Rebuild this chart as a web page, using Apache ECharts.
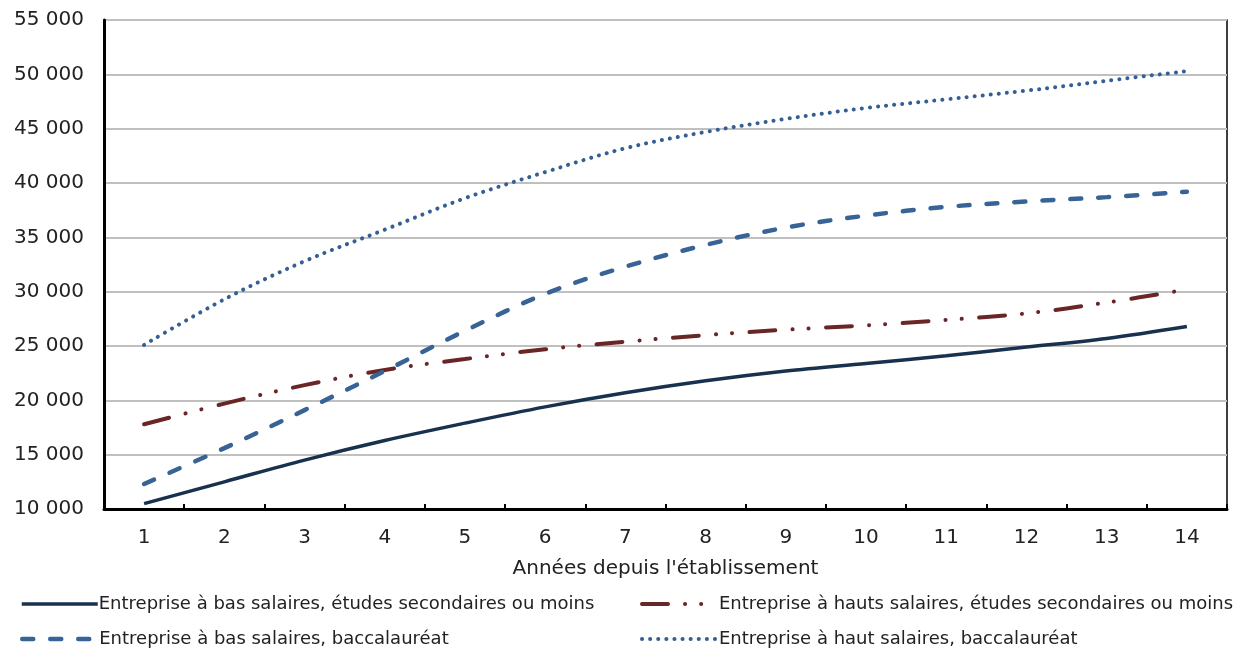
<!DOCTYPE html>
<html>
<head>
<meta charset="utf-8">
<script src="https://cdn.jsdelivr.net/npm/echarts@6/dist/echarts.min.js"></script>
<style>
html,body{margin:0;padding:0;background:#fff;}
#chart{width:1247px;height:649px;}
</style>
</head>
<body>
<div id="chart"></div>
<script>
const categories = ['1','2','3','4','5','6','7','8','9','10','11','12','13','14'];
const lowWageSecondary = [10500,12500,14500,16300,17900,19400,20700,21800,22700,23400,24100,24900,25700,26800];
const highWageSecondary = [17800,19700,21400,22800,23800,24700,25400,26000,26500,26900,27400,28000,29000,30200];
const lowWageBacc = [12300,15600,19100,22700,26400,29800,32300,34300,35900,37000,37800,38300,38700,39200];
const highWageBacc = [25100,29300,32800,35700,38600,41000,43200,44700,45900,46900,47700,48500,49400,50300];
const seriesNames = [
  'Entreprise à bas salaires, études secondaires ou moins',
  'Entreprise à hauts salaires, études secondaires ou moins',
  'Entreprise à bas salaires, baccalauréat',
  'Entreprise à haut salaires, baccalauréat'
];
const xAxisTitle = "Années depuis l'établissement";

const FONT = 'DejaVu Sans';
const chart = echarts.init(document.getElementById('chart'), null, {renderer:'canvas'});

function legendAt(name, left, top) {
  return {
    data: [name], left: left, top: top, orient: 'horizontal',
    itemWidth: 76, itemHeight: 10, itemGap: 2, padding: 0, selectedMode: false,
    itemStyle: {opacity: 0},
    lineStyle: {width: 'inherit', type: 'inherit', cap: 'inherit'},
    textStyle: {fontFamily: FONT, fontSize: 18, color: '#222', padding: [0,0,0,-4]}
  };
}

chart.setOption({
  animation: false,
  backgroundColor: '#fff',
  textStyle: {fontFamily: FONT},
  grid: {left: 104, right: 20, top: 20, bottom: 140, show: true, borderColor: '#000', borderWidth: 1.5, containLabel: false},
  legend: [
    legendAt(seriesNames[0], 20, 595),
    legendAt(seriesNames[1], 640, 595),
    legendAt(seriesNames[2], 20, 630),
    legendAt(seriesNames[3], 640, 630)
  ],
  xAxis: {
    type: 'category', data: categories, boundaryGap: true,
    name: xAxisTitle, nameLocation: 'middle', nameGap: 50,
    nameTextStyle: {fontFamily: FONT, fontSize: 20, color: '#222'},
    axisLine: {lineStyle: {color: '#000', width: 3}},
    axisTick: {show: true, inside: true, length: 5, lineStyle: {color: '#000', width: 2}},
    axisLabel: {fontFamily: FONT, fontSize: 20, color: '#222', margin: 19},
    splitLine: {show: false}
  },
  yAxis: {
    type: 'value', min: 10000, max: 55000, interval: 5000,
    axisLine: {show: true, lineStyle: {color: '#000', width: 3}},
    axisTick: {show: false},
    axisLabel: {fontFamily: FONT, fontSize: 20, color: '#222', margin: 20,
      formatter: v => String(v).replace(/\B(?=(\d{3})+(?!\d))/g, ' ')},
    splitLine: {show: true, lineStyle: {color: '#c0c0c0', width: 2}}
  },
  series: [
    {name: seriesNames[0], type: 'line', data: lowWageSecondary, smooth: 0.35, symbol: 'none',
      lineStyle: {color: '#17314f', width: 3.5}, itemStyle: {color: '#17314f'}},
    {name: seriesNames[1], type: 'line', data: highWageSecondary, smooth: 0.35, symbol: 'none',
      lineStyle: {color: '#6a2527', width: 4, cap: 'round', type: [26, 17, 0.1, 16, 0.1, 17.5]}, itemStyle: {color: '#6a2527'}},
    {name: seriesNames[2], type: 'line', data: lowWageBacc, smooth: 0.35, symbol: 'none',
      lineStyle: {color: '#376396', width: 4.5, cap: 'round', type: [11, 17]}, itemStyle: {color: '#376396'}},
    {name: seriesNames[3], type: 'line', data: highWageBacc, smooth: 0.35, symbol: 'none',
      lineStyle: {color: '#335f95', width: 4, cap: 'round', type: [0.1, 8]}, itemStyle: {color: '#335f95'}}
  ]
});
</script>
</body>
</html>
